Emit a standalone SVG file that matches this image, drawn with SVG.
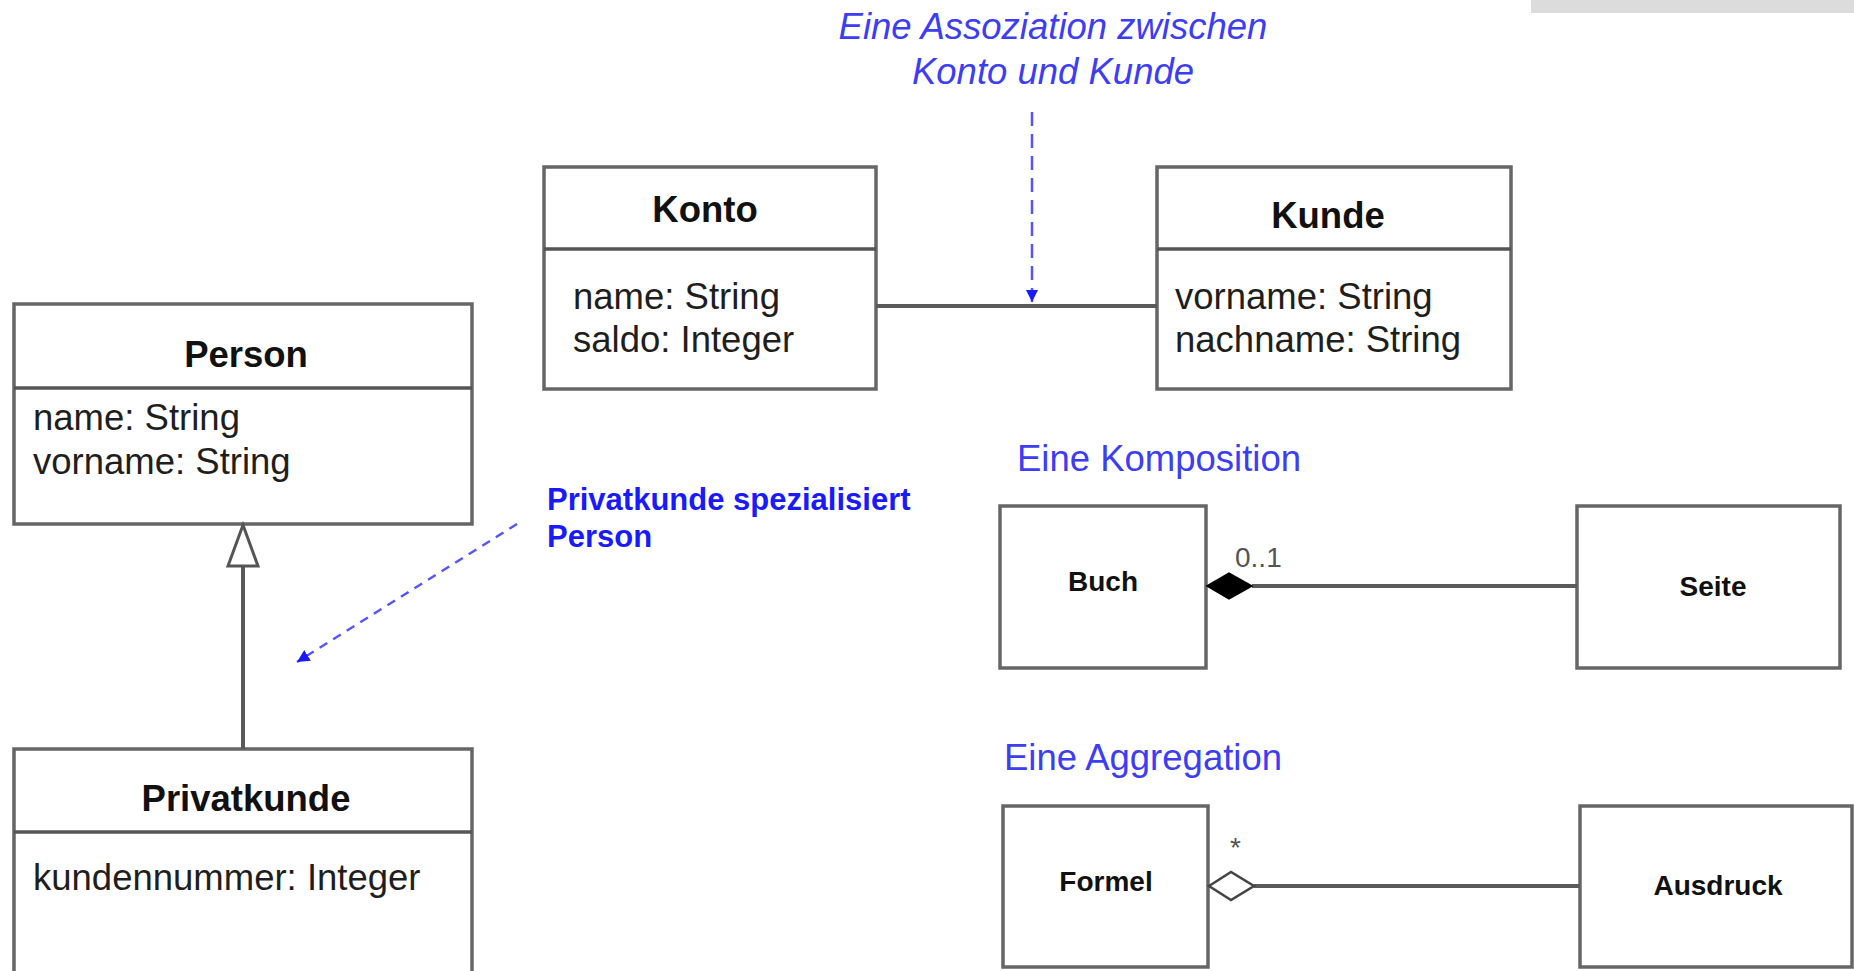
<svg xmlns="http://www.w3.org/2000/svg" width="1854" height="971" viewBox="0 0 1854 971">
<style>
.box{fill:#fff;stroke:#666;stroke-width:3.5}
.div{stroke:#555;stroke-width:3.5}
.title{font-family:"Liberation Sans",Arial,sans-serif;font-weight:bold;font-size:36.5px;fill:#111;text-anchor:middle}
.attr{font-family:"Liberation Sans",Arial,sans-serif;font-size:36.5px;fill:#1e1e1e}
.small{font-family:"Liberation Sans",Arial,sans-serif;font-weight:bold;font-size:28px;fill:#111;text-anchor:middle}
.note{font-family:"Liberation Sans",Arial,sans-serif;font-size:36.5px;fill:#3d3df5}
.noteb{font-family:"Liberation Sans",Arial,sans-serif;font-weight:bold;font-size:31px;fill:#1a1aff}
.mult{font-family:"Liberation Sans",Arial,sans-serif;font-size:28px;fill:#555}
.line{stroke:#5a5a5a;stroke-width:4;fill:none}
.dash{stroke:#5555ff;stroke-width:2.5;fill:none}
</style>
<defs>
<marker id="bluehead" viewBox="0 0 10 10" refX="10" refY="5" markerWidth="5" markerHeight="5" orient="auto" markerUnits="strokeWidth">
<path d="M0,0 L10,5 L0,10 z" fill="#1a1aff"/>
</marker>
</defs>
<rect x="1531" y="0" width="323" height="13" fill="#dcdcdc"/>
<g id="note-assoziation">
<text class="note" x="1053" y="39" text-anchor="middle" font-style="italic">Eine Assoziation zwischen</text>
<text class="note" x="1053" y="84" text-anchor="middle" font-style="italic">Konto und Kunde</text>
</g>
<g id="note-spezialisiert">
<text class="noteb" x="547" y="510">Privatkunde spezialisiert</text>
<text class="noteb" x="547" y="547">Person</text>
</g>
<g id="note-komposition"><text class="note" x="1017" y="471">Eine Komposition</text></g>
<g id="note-aggregation"><text class="note" x="1004" y="770">Eine Aggregation</text></g>
<g id="konto">
<rect class="box" x="544" y="167" width="332" height="222"/>
<line class="div" x1="544" y1="249" x2="876" y2="249"/>
<text class="title" x="705" y="222">Konto</text>
<text class="attr" x="573" y="309">name: String</text>
<text class="attr" x="573" y="352">saldo: Integer</text>
</g>
<g id="kunde">
<rect class="box" x="1157" y="167" width="354" height="222"/>
<line class="div" x1="1157" y1="249" x2="1511" y2="249"/>
<text class="title" x="1328" y="228">Kunde</text>
<text class="attr" x="1175" y="309">vorname: String</text>
<text class="attr" x="1175" y="352">nachname: String</text>
</g>
<g id="person">
<rect class="box" x="14" y="304" width="458" height="220"/>
<line class="div" x1="14" y1="388" x2="472" y2="388"/>
<text class="title" x="246" y="367">Person</text>
<text class="attr" x="33" y="430">name: String</text>
<text class="attr" x="33" y="474">vorname: String</text>
</g>
<g id="privatkunde">
<rect class="box" x="14" y="749" width="458" height="240"/>
<line class="div" x1="14" y1="832" x2="472" y2="832"/>
<text class="title" x="246" y="811">Privatkunde</text>
<text class="attr" x="33" y="890">kundennummer: Integer</text>
</g>
<g id="buch">
<rect class="box" x="1000" y="506" width="206" height="162"/>
<text class="small" x="1103" y="591">Buch</text>
</g>
<g id="seite">
<rect class="box" x="1577" y="506" width="263" height="162"/>
<text class="small" x="1713" y="596">Seite</text>
</g>
<g id="formel">
<rect class="box" x="1003" y="806" width="205" height="161"/>
<text class="small" x="1106" y="891">Formel</text>
</g>
<g id="ausdruck">
<rect class="box" x="1580" y="806" width="272" height="161"/>
<text class="small" x="1718" y="895">Ausdruck</text>
</g>
<g id="connectors">
<line class="line" x1="876" y1="306" x2="1157" y2="306"/>
<line class="dash" x1="1032" y1="112" x2="1032" y2="302" stroke-dasharray="14,8" marker-end="url(#bluehead)"/>
<line class="line" x1="243" y1="749" x2="243" y2="566"/>
<path d="M243,525 L258,566 L228,566 z" fill="#fff" stroke="#555" stroke-width="3"/>
<line class="dash" x1="517" y1="524" x2="297" y2="662" stroke-dasharray="9,7" marker-end="url(#bluehead)"/>
<line class="line" x1="1252" y1="586" x2="1577" y2="586"/>
<path d="M1207,586 L1229,573 L1252,586 L1229,599 z" fill="#000" stroke="#000" stroke-width="1.5"/>
<text class="mult" x="1235" y="567">0..1</text>
<line class="line" x1="1254" y1="886" x2="1580" y2="886"/>
<path d="M1209,886 L1231,872 L1254,886 L1231,900 z" fill="#fff" stroke="#444" stroke-width="2.5"/>
<text class="mult" x="1230" y="857">*</text>
</g>
</svg>
